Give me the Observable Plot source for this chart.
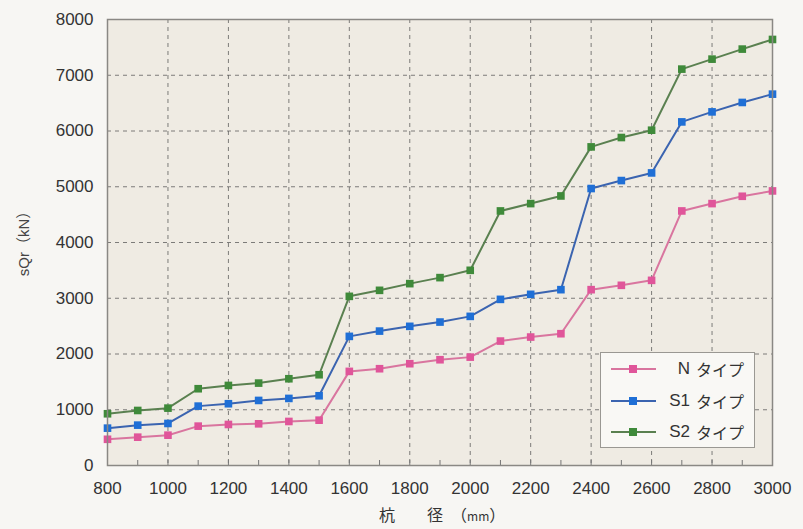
<!DOCTYPE html>
<html>
<head>
<meta charset="utf-8">
<script src="https://cdn.jsdelivr.net/npm/d3@7"></script>
<script src="https://cdn.jsdelivr.net/npm/@observablehq/plot@0.6"></script>
<style>
  body { margin: 0; background: #f7f6f3; font-family: "Liberation Sans", Arial, "Noto Sans CJK JP", sans-serif; }
  #wrap { position: relative; width: 803px; height: 529px; }
  #legend { position: absolute; left: 600px; top: 352px; width: 153px; height: 94px;
    border: 1.5px solid #9a9893; background: #f9f8f5; box-sizing: content-box; }
  .row { position: absolute; left: 0; width: 153px; height: 26px; }
  .row svg { position: absolute; left: 9px; top: 0; }
  .code { position: absolute; right: 64px; top: 0; line-height: 26px; font-size: 17px; color: #333; }
  .type { position: absolute; left: 95px; top: 0; line-height: 26px; font-size: 16px; color: #333; font-family: "Noto Sans CJK JP", sans-serif; }
  #ylabel { position: absolute; left: 22px; top: 240px; transform: translate(-50%, -50%) rotate(-90deg);
    font-size: 15px; color: #444; white-space: nowrap; font-family: "Liberation Sans", Arial, sans-serif; }
  #ylabel .p { font-family: "Noto Sans CJK JP", sans-serif; }
  #xlabel { position: absolute; left: 379px; top: 502px; height: 24px; line-height: 24px;
    font-size: 16px; color: #333; white-space: nowrap; font-family: "Noto Sans CJK JP", sans-serif; }
  #xlabel span { display: inline-block; }
  #xlabel .unit { font-size: 12px; }
</style>
</head>
<body>
<div id="wrap"></div>
<script>
const diameters = [800, 900, 1000, 1100, 1200, 1300, 1400, 1500, 1600, 1700, 1800, 1900, 2000, 2100, 2200, 2300, 2400, 2500, 2600, 2700, 2800, 2900, 3000];
const nValues  = [470, 508, 544, 706, 736, 748, 790, 813, 1688, 1736, 1826, 1897, 1944, 2232, 2304, 2364, 3154, 3232, 3321, 4566, 4698, 4829, 4925];
const s1Values = [670, 724, 754, 1065, 1108, 1167, 1203, 1251, 2316, 2411, 2496, 2573, 2675, 2980, 3070, 3154, 4968, 5111, 5248, 6163, 6343, 6512, 6661];
const s2Values = [928, 987, 1029, 1377, 1436, 1478, 1556, 1628, 3034, 3142, 3262, 3370, 3501, 4566, 4698, 4835, 5715, 5883, 6014, 7110, 7289, 7469, 7642];
const seriesNames = ["N", "S1", "S2"];
const seriesLabels = ["N", "S1", "S2"];
const typeLabel = "タイプ";
const yTicks = [0, 1000, 2000, 3000, 4000, 5000, 6000, 7000, 8000];
const xTicks = [800, 1000, 1200, 1400, 1600, 1800, 2000, 2200, 2400, 2600, 2800, 3000];
const xMinorTicks = diameters;
const xLabelParts = ["杭", "径"];
const xLabelUnit = "mm";
const yLabelMain = "sQr";
const yLabelUnit = "kN";

const lineColors = ["#d9759f", "#3b64b0", "#5a8050"];
const dotColors = ["#e0559a", "#1f6fd6", "#3f8a3a"];

const valuesBySeries = [nValues, s1Values, s2Values];
const data = [];
seriesNames.forEach((s, i) => diameters.forEach((d, j) => data.push({series: s, d, v: valuesBySeries[i][j]})));

const chart = Plot.plot({
  width: 803,
  height: 529,
  marginLeft: 107,
  marginRight: 31,
  marginTop: 19,
  marginBottom: 64,
  style: {background: "transparent", fontFamily: "'Liberation Sans', Arial, sans-serif", color: "#333"},
  x: {domain: [800, 3000]},
  y: {domain: [0, 8000]},
  color: {domain: seriesNames, range: lineColors},
  marks: [
    Plot.frame({fill: "#efebe3"}),
    Plot.gridX(xTicks.slice(1, -1), {stroke: "#555", strokeOpacity: 0.75, strokeDasharray: "4,4", strokeWidth: 1}),
    Plot.gridY(yTicks.slice(1, -1), {stroke: "#555", strokeOpacity: 0.75, strokeDasharray: "4,4", strokeWidth: 1}),
    Plot.axisX({ticks: xMinorTicks, tickSize: -5, tickFormat: () => "", stroke: "#777", label: null}),
    Plot.axisX({ticks: xTicks, tickSize: 0, tickPadding: 16, tickFormat: d => String(d), fontSize: 17, label: null}),
    Plot.axisY({ticks: yTicks, tickSize: 0, tickPadding: 14, tickFormat: d => String(d), fontSize: 17, label: null}),
    Plot.line(data, {x: "d", y: "v", stroke: "series", strokeWidth: 2}),
    Plot.dot(data, {x: "d", y: "v", symbol: "square", r: 4.3, fill: d => dotColors[seriesNames.indexOf(d.series)], stroke: "none"}),
    Plot.frame({stroke: "#8a8884", strokeWidth: 1.5})
  ]
});

const wrap = document.getElementById("wrap");
wrap.appendChild(chart);

const yl = document.createElement("div");
yl.id = "ylabel";
yl.innerHTML = `${yLabelMain}<span class="p">（</span>${yLabelUnit}<span class="p">）</span>`;
wrap.appendChild(yl);

const xl = document.createElement("div");
xl.id = "xlabel";
xl.innerHTML = `<span style="margin-right:32px">${xLabelParts[0]}</span><span style="margin-right:8px">${xLabelParts[1]}</span><span>（<span class="unit">${xLabelUnit}</span>）</span>`;
wrap.appendChild(xl);

const legend = document.createElement("div");
legend.id = "legend";
seriesNames.forEach((s, i) => {
  const row = document.createElement("div");
  row.className = "row";
  row.style.top = (3 + i * 31.5) + "px";
  row.innerHTML = `<svg width="48" height="26"><line x1="1" y1="13" x2="46" y2="13" stroke="${lineColors[i]}" stroke-width="2"/><rect x="19" y="9" width="8" height="8" fill="${dotColors[i]}"/></svg>` +
    `<span class="code">${seriesLabels[i]}</span><span class="type">${typeLabel}</span>`;
  legend.appendChild(row);
});
wrap.appendChild(legend);
</script>
</body>
</html>
